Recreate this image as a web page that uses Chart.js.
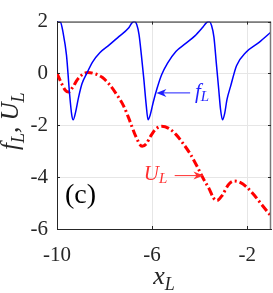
<!DOCTYPE html>
<html>
<head>
<meta charset="utf-8">
<script src="https://cdn.jsdelivr.net/npm/chart.js@4"></script>
<style>
	html, body { margin: 0; padding: 0; background: #fff; }
	canvas { display: block; }
</style>
</head>
<body>
<canvas id="chart" width="273" height="293"></canvas>
<script>
// f_L (blue, solid)
const fX = [-10, -9.85, -9.75, -9.6, -9.47, -9.38, -9.32, -9.22, -9.1, -8.95, -8.75, -8.5, -8.2, -7.8, -7.4, -7.0, -6.85, -6.75, -6.65, -6.55, -6.45, -6.35, -6.25, -6.17, -6.08, -5.95, -5.8, -5.6, -5.35, -5.0, -4.6, -4.2, -3.9, -3.7, -3.6, -3.5, -3.4, -3.3, -3.2, -3.12, -3.04, -2.95, -2.85, -2.7, -2.45, -2.05, -1.5, -1.0];
const fY = [2, 1.97, 1.6, 0.7, -0.8, -1.6, -1.79, -1.5, -0.95, -0.4, 0.0, 0.45, 0.8, 1.1, 1.42, 1.74, 1.95, 2.0, 1.9, 1.5, 0.7, -0.2, -1.2, -1.79, -1.6, -1.1, -0.6, -0.05, 0.4, 0.85, 1.15, 1.45, 1.75, 1.97, 2.0, 1.85, 1.4, 0.4, -0.6, -1.4, -1.79, -1.55, -1.0, -0.5, 0.3, 0.82, 1.2, 1.6];

// U_L (red, dash-dot)
const uX = [-10, -9.8, -9.65, -9.52, -9.35, -9.15, -8.9, -8.7, -8.45, -8.1, -7.8, -7.5, -7.2, -6.95, -6.7, -6.42, -6.25, -6.05, -5.85, -5.6, -5.3, -5.0, -4.7, -4.4, -4.1, -3.85, -3.6, -3.42, -3.27, -3.05, -2.8, -2.55, -2.3, -2.0, -1.7, -1.4, -1.0];
const uY = [0, -0.4, -0.65, -0.72, -0.55, -0.25, -0.02, 0.04, 0.0, -0.15, -0.42, -0.8, -1.25, -1.8, -2.4, -2.81, -2.72, -2.4, -2.15, -2.04, -2.12, -2.35, -2.7, -3.1, -3.6, -4.05, -4.45, -4.8, -4.9, -4.7, -4.3, -4.15, -4.2, -4.4, -4.7, -5.05, -5.5];

const xTicks = [-10, -6, -2];
const yTicks = [2, 0, -2, -4, -6];

// annotation anchors in data units: [textX, textY, tailX, headX]
const fNote = [-4.2, -0.75, -4.4, -5.82];
const uNote = [-6.35, -3.94, -5.05, -3.84];

const serif = "'Liberation Serif', 'DejaVu Serif', serif";
const axisCol = "#262626";

const toPts = (xs, ys) => xs.map((x, i) => ({ x: x, y: ys[i] }));

// draw italic text with subscripts, parts = [[text, isSub], ...]
const mathWidth = (ctx, parts, size) => {
	let w = 0;
	parts.forEach(p => {
		ctx.font = "italic " + (p[1] ? Math.round(size * 0.7) : size) + "px " + serif;
		w += ctx.measureText(p[0]).width;
	});
	return w;
};

const drawMath = (ctx, parts, x, y, size) => {
	parts.forEach(p => {
		let s = p[1] ? Math.round(size * 0.7) : size;
		ctx.font = "italic " + s + "px " + serif;
		ctx.fillText(p[0], x, p[1] ? y + size * 0.22 : y);
		x += ctx.measureText(p[0]).width;
	});
};

const drawArrow = (ctx, x1, y, x2, col) => {
	let dir = x2 > x1 ? 1 : -1;
	ctx.strokeStyle = col;
	ctx.fillStyle = col;
	ctx.lineWidth = 1;
	ctx.beginPath();
	ctx.moveTo(x1, y);
	ctx.lineTo(x2 - dir * 5, y);
	ctx.stroke();
	ctx.beginPath();
	ctx.moveTo(x2, y);
	ctx.lineTo(x2 - dir * 10, y - 4);
	ctx.lineTo(x2 - dir * 7, y);
	ctx.lineTo(x2 - dir * 10, y + 4);
	ctx.closePath();
	ctx.fill();
};

const decor = {
	id: "decor",
	afterDraw: (chart) => {
		const ctx = chart.ctx;
		const a = chart.chartArea;
		const xs = chart.scales.x, ys = chart.scales.y;
		ctx.save();

		// box and inward ticks
		ctx.strokeStyle = axisCol;
		ctx.lineWidth = 1;
		ctx.beginPath();
		ctx.moveTo(a.left, a.top + 0.5);
		ctx.lineTo(a.right, a.top + 0.5);
		ctx.stroke();
		ctx.strokeStyle = "#7a7a7a";
		ctx.lineWidth = 1.5;
		ctx.beginPath();
		ctx.moveTo(a.right - 0.5, a.top);
		ctx.lineTo(a.right - 0.5, a.bottom);
		ctx.stroke();
		ctx.strokeStyle = axisCol;
		ctx.lineWidth = 1;
		ctx.beginPath();
		xTicks.forEach(v => {
			let px = Math.round(xs.getPixelForValue(v)) + 0.5;
			ctx.moveTo(px, a.bottom); ctx.lineTo(px, a.bottom - 3);
			ctx.moveTo(px, a.top); ctx.lineTo(px, a.top + 3);
		});
		yTicks.forEach(v => {
			let py = Math.round(ys.getPixelForValue(v)) + 0.5;
			ctx.moveTo(a.left, py); ctx.lineTo(a.left + 3, py);
			ctx.moveTo(a.right, py); ctx.lineTo(a.right - 3, py);
		});
		ctx.stroke();

		// axis titles
		ctx.fillStyle = axisCol;
		ctx.textBaseline = "alphabetic";
		ctx.textAlign = "left";
		let xl = [["x", false], ["L", true]];
		let w = mathWidth(ctx, xl, 26);
		drawMath(ctx, xl, (a.left + a.right) / 2 - w / 2, 284, 26);

		let yl = [["f", false], ["L", true], [", ", false], ["U", false], ["L", true]];
		ctx.translate(18, (a.top + a.bottom) / 2 - 4);
		ctx.rotate(-Math.PI / 2);
		w = mathWidth(ctx, yl, 25);
		drawMath(ctx, yl, -w / 2, 0, 25);
		ctx.setTransform(1, 0, 0, 1, 0, 0);

		// panel label
		ctx.fillStyle = "#000";
		ctx.font = "28px " + serif;
		ctx.fillText("(c)", a.left + 8, a.bottom - 26);

		// annotations
		let fy = ys.getPixelForValue(fNote[1]);
		drawArrow(ctx, xs.getPixelForValue(fNote[2]), fy, xs.getPixelForValue(fNote[3]), "#1f1fff");
		ctx.fillStyle = "#1f1fff";
		ctx.textBaseline = "middle";
		drawMath(ctx, [["f", false], ["L", true]], xs.getPixelForValue(fNote[0]), fy, 21);

		let uy = ys.getPixelForValue(uNote[1]);
		drawArrow(ctx, xs.getPixelForValue(uNote[2]), uy, xs.getPixelForValue(uNote[3]), "#ff3030");
		ctx.fillStyle = "#ff3030";
		drawMath(ctx, [["U", false], ["L", true]], xs.getPixelForValue(uNote[0]), uy - 1, 21);

		ctx.restore();
	}
};

window.addEventListener("load", () => {
	new Chart(document.getElementById("chart"), {
		type: "line",
		data: {
			datasets: [{
				data: toPts(fX, fY),
				borderColor: "#0000ff",
				borderWidth: 1.5,
				pointRadius: 0,
				cubicInterpolationMode: "monotone",
				fill: false
			}, {
				data: toPts(uX, uY),
				borderColor: "#ff0000",
				borderWidth: 3,
				borderDash: [8, 3, 2, 3],
				pointRadius: 0,
				cubicInterpolationMode: "monotone",
				fill: false
			}]
		},
		options: {
			responsive: false,
			animation: false,
			layout: { padding: { top: 16, right: 2, left: 0, bottom: 0 } },
			plugins: {
				legend: { display: false },
				tooltip: { enabled: false }
			},
			scales: {
				x: {
					type: "linear",
					min: -10,
					max: -1,
					afterBuildTicks: axis => { axis.ticks = xTicks.map(v => ({ value: v })); },
					afterFit: axis => { axis.height = 64; },
					grid: { color: "#e6e6e6", drawTicks: false },
					border: { color: axisCol },
					ticks: {
						padding: 14,
						maxRotation: 0,
						color: axisCol,
						font: { family: serif, size: 21 }
					}
				},
				y: {
					min: -6,
					max: 2,
					afterBuildTicks: axis => { axis.ticks = yTicks.map(v => ({ value: v })); },
					afterFit: axis => { axis.width = 57; },
					grid: { color: "#e6e6e6", drawTicks: false },
					border: { color: axisCol },
					ticks: {
						padding: 9,
						color: axisCol,
						font: { family: serif, size: 21 }
					}
				}
			}
		},
		plugins: [decor]
	});
});
</script>
</body>
</html>
